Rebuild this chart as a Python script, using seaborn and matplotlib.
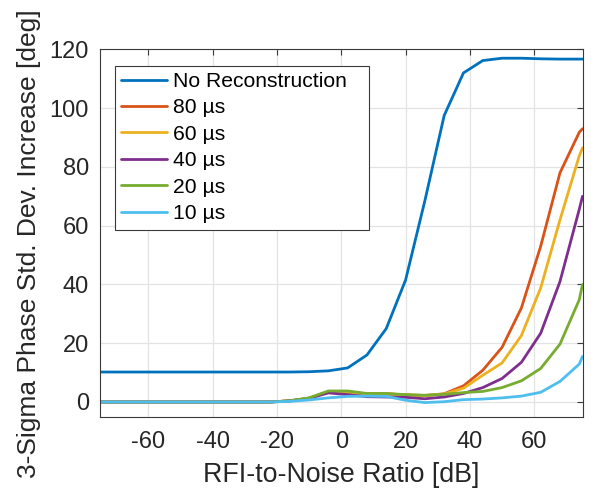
import numpy as np
import pandas as pd
import matplotlib
matplotlib.use("Agg")
import matplotlib.pyplot as plt
import seaborn as sns
from matplotlib.lines import Line2D

# ---- data ----
rnr_db = [-76, -70, -64, -58, -52, -46, -40, -34, -28, -22, -16, -10, -4, 2, 8, 14,
          20, 26, 32, 38, 44, 50, 56, 62, 68, 74, 75]

no_recon = [10.2, 10.2, 10.2, 10.2, 10.2, 10.2, 10.2, 10.2, 10.2, 10.2, 10.2, 10.3, 10.6,
            11.6, 16.0, 25.0, 41.5, 68.5, 97.5, 112.0, 116.2, 117.0, 117.0, 116.8, 116.7,
            116.7, 116.7]
us80 = [0, 0, 0, 0, 0, 0, 0, 0, 0, 0, 0.4, 1.3, 3.5, 3.3, 2.8, 2.8, 2.4, 2.2, 2.8, 5.5,
        10.8, 18.6, 32.0, 53.0, 78.0, 91.8, 93.0]
us60 = [0, 0, 0, 0, 0, 0, 0, 0, 0, 0, 0.4, 1.3, 3.5, 3.3, 2.8, 2.8, 2.4, 2.2, 2.7, 4.7,
        9.1, 13.3, 22.6, 38.8, 62.0, 83.8, 86.5]
us40 = [0, 0, 0, 0, 0, 0, 0, 0, 0, 0, 0.4, 1.2, 3.1, 2.5, 1.8, 1.7, 1.6, 1.1, 1.7, 2.9,
        4.9, 8.0, 13.5, 23.4, 41.0, 65.6, 70.0]
us20 = [0, 0, 0, 0, 0, 0, 0, 0, 0, 0, 0.4, 1.4, 3.75, 3.75, 2.9, 2.9, 2.5, 2.3, 2.6, 3.2,
        3.6, 4.9, 7.2, 11.4, 19.7, 34.8, 40.0]
us10 = [0, 0, 0, 0, 0, 0, 0, 0, 0, 0, 0.2, 0.7, 1.4, 1.9, 2.0, 1.9, 0.6, -0.2, 0.1, 0.8,
        1.0, 1.4, 2.0, 3.3, 7.0, 12.9, 15.5]

series_names = ["No Reconstruction", "80 \u00b5s", "60 \u00b5s", "40 \u00b5s", "20 \u00b5s", "10 \u00b5s"]
series_vals = [no_recon, us80, us60, us40, us20, us10]
colors = ["#0072BD", "#D95319", "#EDB120", "#7E2F8E", "#77AC30", "#4DBEEE"]

x_ticks = [-60, -40, -20, 0, 20, 40, 60]
y_ticks = [0, 20, 40, 60, 80, 100, 120]

df = pd.concat([pd.DataFrame({"x": rnr_db, "y": v, "series": n})
                for n, v in zip(series_names, series_vals)], ignore_index=True)

# ---- style ----
sns.set_theme(style="white")
plt.rcParams["font.family"] = ["Liberation Sans", "DejaVu Sans"]
plt.rcParams["axes.unicode_minus"] = False
text_col = "#262626"

fig = plt.figure(figsize=(5.95, 4.93), dpi=100)
ax = fig.add_axes([0.168, 0.1548, 0.811, 0.745])

sns.lineplot(data=df, x="x", y="y", hue="series", hue_order=series_names,
             palette=colors, linewidth=2.0, ax=ax, sort=False, legend=False)

ax.set_xlim(-75, 75)
ax.set_ylim(-5, 120)
ax.set_xticks(x_ticks)
ax.set_yticks(y_ticks)
ax.grid(True, color="#e3e3e3", linewidth=0.9)
ax.set_axisbelow(True)

for s in ax.spines.values():
    s.set_visible(True)
    s.set_color("#3a3a3a")
    s.set_linewidth(0.8)

ax.tick_params(axis="both", direction="in", length=4, width=0.8, color="#3a3a3a",
               labelsize=17, labelcolor=text_col, top=True, right=True)
ax.tick_params(axis="x", pad=10)
ax.tick_params(axis="y", pad=8)

ax.set_xlabel("RFI-to-Noise Ratio [dB]", fontsize=19.3, color=text_col, labelpad=7)
ax.set_ylabel("3-Sigma Phase Std. Dev. Increase [deg]", fontsize=19.0, color=text_col)
ax.yaxis.set_label_coords(-0.122, 0.472)

handles = [Line2D([], [], color=c, linewidth=2.0) for c in colors]
leg = ax.legend(handles, series_names, loc="upper left",
                bbox_to_anchor=(0.031, 0.3, 0.526, 0.656), mode="expand",
                borderaxespad=0, fontsize=15.2, frameon=True, fancybox=False,
                framealpha=1, edgecolor="#3a3a3a", handlelength=2.15,
                handletextpad=0.3, labelspacing=0.355, borderpad=0.3)
leg.get_frame().set_linewidth(0.8)
for t in leg.get_texts():
    t.set_color("black")

fig.savefig("out.png", dpi=100)
